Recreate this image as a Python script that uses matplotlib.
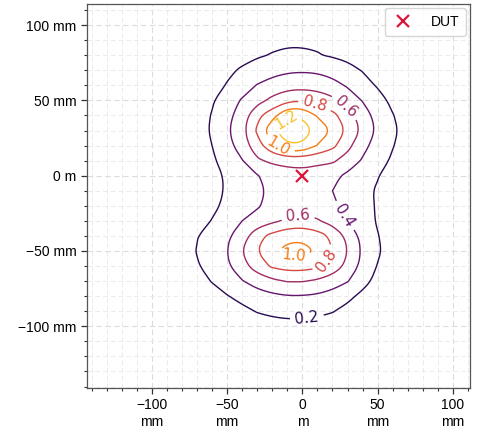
import numpy as np
import matplotlib
matplotlib.use("Agg")
import matplotlib.pyplot as plt
from matplotlib.path import Path
from matplotlib.ticker import MultipleLocator, FuncFormatter

# --- data: field magnitude (10 mm grid) ---
x_mm = [-90, -80, -70, -60, -50, -40, -30, -20, -10, 0, 10, 20, 30, 40, 50, 60, 70, 80]
y_mm = [110, 100, 90, 80, 70, 60, 50, 40, 30, 20, 10, 0,
        -10, -20, -30, -40, -50, -60, -70, -80, -90, -100, -110]

row_110 = [0.02, 0.03, 0.04, 0.05, 0.06, 0.07, 0.08, 0.09, 0.10, 0.10, 0.09, 0.08, 0.07, 0.06, 0.05, 0.04, 0.03, 0.02]
row_100 = [0.03, 0.04, 0.05, 0.06, 0.08, 0.09, 0.11, 0.12, 0.13, 0.13, 0.12, 0.11, 0.09, 0.07, 0.06, 0.05, 0.04, 0.03]
row_90 = [0.03, 0.05, 0.06, 0.08, 0.10, 0.12, 0.14, 0.16, 0.17, 0.18, 0.17, 0.15, 0.12, 0.10, 0.08, 0.06, 0.04, 0.03]
row_80 = [0.04, 0.06, 0.08, 0.10, 0.12, 0.15, 0.18, 0.21, 0.23, 0.22, 0.21, 0.18, 0.15, 0.12, 0.09, 0.07, 0.05, 0.03]
row_70 = [0.05, 0.08, 0.11, 0.14, 0.17, 0.22, 0.28, 0.33, 0.37, 0.38, 0.37, 0.33, 0.26, 0.19, 0.13, 0.09, 0.06, 0.04]
row_60 = [0.06, 0.09, 0.11, 0.14, 0.21, 0.30, 0.41, 0.48, 0.52, 0.53, 0.51, 0.46, 0.38, 0.28, 0.18, 0.10, 0.07, 0.05]
row_50 = [0.05, 0.07, 0.10, 0.18, 0.30, 0.42, 0.53, 0.65, 0.75, 0.78, 0.74, 0.65, 0.51, 0.39, 0.28, 0.15, 0.07, 0.04]
row_40 = [0.05, 0.08, 0.12, 0.21, 0.34, 0.50, 0.75, 0.92, 1.19, 1.18, 0.98, 0.86, 0.69, 0.50, 0.33, 0.21, 0.10, 0.05]
row_30 = [0.05, 0.08, 0.13, 0.22, 0.37, 0.54, 0.83, 1.17, 1.29, 1.28, 1.15, 0.98, 0.76, 0.56, 0.36, 0.24, 0.12, 0.06]
row_20 = [0.05, 0.08, 0.12, 0.20, 0.33, 0.50, 0.72, 0.95, 1.18, 1.18, 0.99, 0.85, 0.66, 0.46, 0.32, 0.21, 0.11, 0.05]
row_10 = [0.04, 0.06, 0.10, 0.17, 0.28, 0.39, 0.57, 0.64, 0.66, 0.66, 0.64, 0.63, 0.52, 0.38, 0.28, 0.17, 0.09, 0.04]
row_0 = [0.03, 0.05, 0.07, 0.13, 0.23, 0.32, 0.39, 0.46, 0.52, 0.54, 0.52, 0.45, 0.36, 0.28, 0.21, 0.12, 0.06, 0.03]
row_m10 = [0.03, 0.04, 0.07, 0.14, 0.22, 0.30, 0.37, 0.43, 0.47, 0.48, 0.46, 0.40, 0.32, 0.25, 0.18, 0.10, 0.05, 0.03]
row_m20 = [0.03, 0.05, 0.08, 0.15, 0.25, 0.32, 0.38, 0.46, 0.51, 0.52, 0.49, 0.43, 0.35, 0.27, 0.18, 0.10, 0.05, 0.03]
row_m30 = [0.03, 0.06, 0.10, 0.21, 0.30, 0.40, 0.47, 0.56, 0.63, 0.66, 0.62, 0.52, 0.40, 0.30, 0.18, 0.09, 0.04, 0.02]
row_m40 = [0.04, 0.08, 0.19, 0.29, 0.37, 0.50, 0.74, 0.86, 0.95, 0.96, 0.89, 0.76, 0.55, 0.34, 0.21, 0.10, 0.04, 0.02]
row_m50 = [0.04, 0.08, 0.21, 0.31, 0.40, 0.60, 0.80, 0.96, 1.05, 1.06, 0.98, 0.80, 0.60, 0.37, 0.23, 0.10, 0.04, 0.02]
row_m60 = [0.03, 0.07, 0.18, 0.28, 0.37, 0.53, 0.70, 0.83, 0.88, 0.88, 0.84, 0.72, 0.55, 0.34, 0.19, 0.08, 0.03, 0.02]
row_m70 = [0.02, 0.05, 0.12, 0.21, 0.30, 0.39, 0.48, 0.56, 0.61, 0.61, 0.57, 0.50, 0.41, 0.27, 0.14, 0.06, 0.03, 0.02]
row_m80 = [0.02, 0.03, 0.06, 0.12, 0.19, 0.26, 0.32, 0.36, 0.39, 0.39, 0.37, 0.32, 0.25, 0.15, 0.08, 0.04, 0.02, 0.01]
row_m90 = [0.01, 0.02, 0.04, 0.06, 0.10, 0.15, 0.21, 0.24, 0.26, 0.26, 0.24, 0.21, 0.14, 0.08, 0.04, 0.02, 0.01, 0.01]
row_m100 = [0.01, 0.01, 0.02, 0.03, 0.05, 0.08, 0.11, 0.13, 0.14, 0.14, 0.13, 0.11, 0.08, 0.05, 0.03, 0.01, 0.01, 0.01]
row_m110 = [0.01, 0.01, 0.01, 0.02, 0.03, 0.04, 0.05, 0.06, 0.07, 0.07, 0.06, 0.05, 0.04, 0.03, 0.02, 0.01, 0.01, 0.01]

levels = [0.2, 0.4, 0.6, 0.8, 1.0, 1.2]
dut_pos = (0, 0)

# label spots (mm), placed along the contours
label_spots = [(-11, 37), (-16, 19), (8, 46), (28, 45),
               (-3, -26), (29, -26), (-6, -53), (17, -57), (3, -94)]

field = np.array([row_110, row_100, row_90, row_80, row_70, row_60, row_50,
                  row_40, row_30, row_20, row_10, row_0, row_m10, row_m20,
                  row_m30, row_m40, row_m50, row_m60, row_m70, row_m80,
                  row_m90, row_m100, row_m110])
X, Y = np.meshgrid(x_mm, y_mm)


def chaikin(pts, closed, n=3):
    # corner cutting, only to soften the coarse-grid polygon look
    for _ in range(n):
        if closed:
            nxt = np.roll(pts, -1, axis=0)
            q = 0.75 * pts + 0.25 * nxt
            r = 0.25 * pts + 0.75 * nxt
            pts = np.empty((2 * len(pts), 2))
            pts[0::2], pts[1::2] = q, r
        else:
            a, b = pts[:-1], pts[1:]
            q = 0.75 * a + 0.25 * b
            r = 0.25 * a + 0.75 * b
            mid = np.empty((2 * len(a), 2))
            mid[0::2], mid[1::2] = q, r
            pts = np.vstack([pts[:1], mid, pts[-1:]])
    return pts


def smooth_path(p):
    verts, codes = p.vertices, p.codes
    if codes is None:
        codes = np.full(len(verts), Path.LINETO)
        codes[0] = Path.MOVETO
    out_v, out_c = [], []
    start = 0
    for i in range(1, len(verts) + 1):
        if i == len(verts) or codes[i] == Path.MOVETO:
            seg = verts[start:i]
            closed = codes[i - 1] == Path.CLOSEPOLY
            if closed:
                seg = seg[:-1]
            if len(seg) > 2:
                seg = chaikin(seg, closed)
            out_v.append(seg)
            c = np.full(len(seg), Path.LINETO)
            c[0] = Path.MOVETO
            out_c.append(c)
            if closed:
                out_v.append(seg[:1])
                out_c.append(np.array([Path.CLOSEPOLY]))
            start = i
    if not out_v:
        return p
    return Path(np.vstack(out_v), np.concatenate(out_c))


plt.rcParams["font.family"] = ["Liberation Sans", "DejaVu Sans"]
plt.rcParams["font.size"] = 10

fig = plt.figure(figsize=(4.81, 4.36), dpi=100)
ax = fig.add_axes([0.180, 0.110, 0.7986, 0.8808])


def mm_fmt(v, pos):
    if abs(v) < 1e-9:
        return "0 m"
    s = f"{int(round(v))}".replace("-", "\u2212")
    return s + " mm"


def mm_fmt_x(v, pos):
    if abs(v) < 1e-9:
        return "0\nm"
    s = f"{int(round(v))}".replace("-", "\u2212")
    return s + "\nmm"


ax.grid(which="major", color="#dcdcdc", linestyle=(0, (5, 3)), linewidth=0.8, zorder=0)
ax.grid(which="minor", color="#ebebeb", linestyle=(0, (5, 3)), linewidth=0.7, zorder=0)
ax.set_axisbelow(True)

ax.set_xlim(-143, 111.5)
ax.set_ylim(-141, 114)
ax.set_aspect("equal")

cs = ax.contour(X, Y, field, levels=levels, cmap="inferno", vmin=0.0, vmax=1.4,
                linewidths=1.0)
cs.set_paths([smooth_path(p) for p in cs.get_paths()])
# contour labels use the plain default face, so widths match the gaps
with plt.rc_context({"font.family": "DejaVu Sans"}):
    ax.clabel(cs, fmt="%.1f", fontsize=11, inline=True, inline_spacing=5,
              manual=label_spots)

ax.plot([dut_pos[0]], [dut_pos[1]], "x", color="#dc143c", markersize=9,
        markeredgewidth=1.6, linestyle="none", label="DUT")

ax.xaxis.set_major_locator(MultipleLocator(50))
ax.xaxis.set_minor_locator(MultipleLocator(10))
ax.yaxis.set_major_locator(MultipleLocator(50))
ax.yaxis.set_minor_locator(MultipleLocator(10))
ax.xaxis.set_major_formatter(FuncFormatter(mm_fmt_x))
ax.yaxis.set_major_formatter(FuncFormatter(mm_fmt))
ax.tick_params(which="major", direction="out", length=4, width=0.9, colors="#333333",
               labelcolor="black")
ax.tick_params(which="minor", direction="out", length=2.5, width=0.8, colors="#333333")
for sp in ax.spines.values():
    sp.set_color("#555555")
    sp.set_linewidth(0.9)

leg = ax.legend(loc="upper right", fontsize=10, frameon=True, fancybox=True,
                handlelength=1.6, handletextpad=1.2, borderpad=0.5, borderaxespad=0.3)
leg.get_frame().set_edgecolor("#cccccc")

fig.savefig("out.png", dpi=100)
